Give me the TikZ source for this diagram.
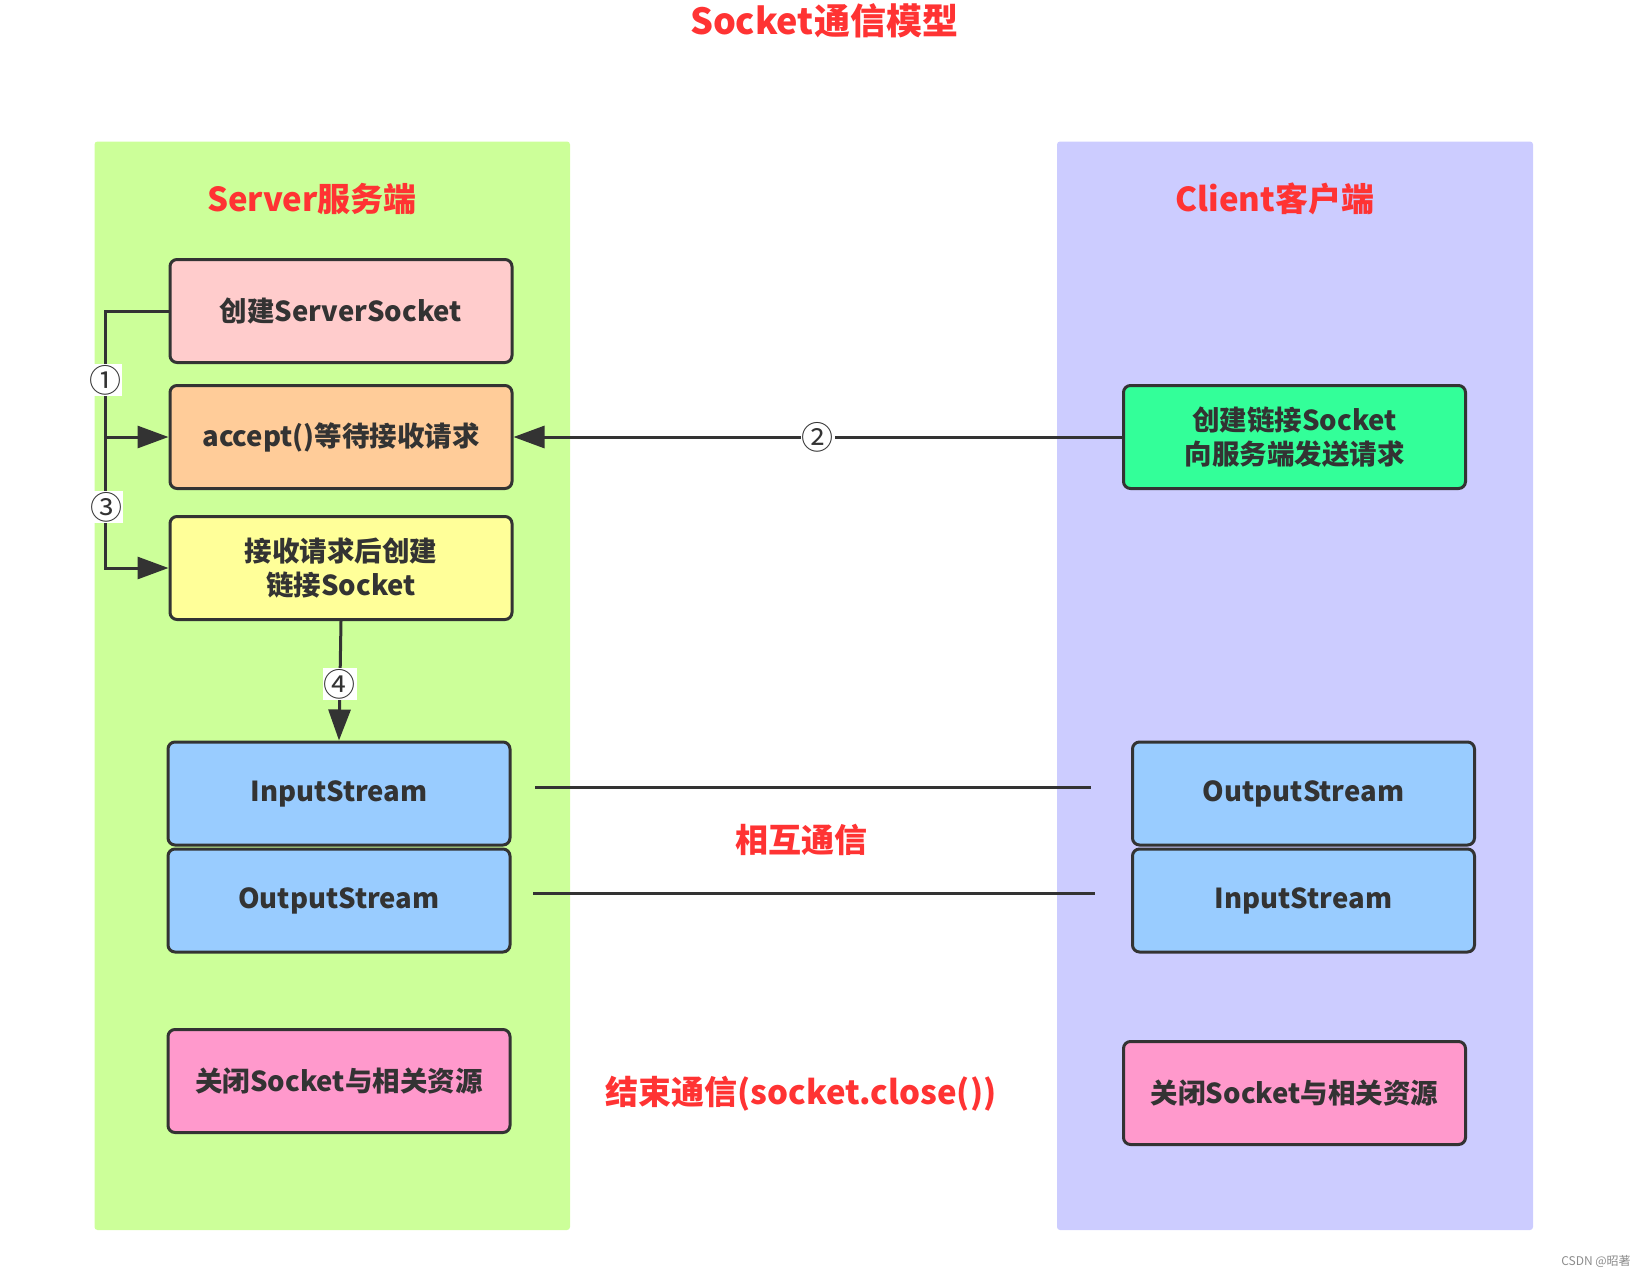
\documentclass[tikz,border=0pt]{standalone}
\usepackage{fontspec}
\setmainfont{Noto Sans CJK SC}
\usetikzlibrary{arrows.meta,calc}
\definecolor{panelgreen}{HTML}{CCFF99}
\definecolor{panelblue}{HTML}{CCCCFF}
\definecolor{boxpink}{HTML}{FFCCCC}
\definecolor{boxorange}{HTML}{FFCC99}
\definecolor{boxyellow}{HTML}{FFFF99}
\definecolor{boxmint}{HTML}{33FF99}
\definecolor{boxsky}{HTML}{99CCFF}
\definecolor{boxrose}{HTML}{FF99CC}
\definecolor{redtext}{HTML}{FF3333}
\definecolor{edge}{HTML}{333333}
\tikzset{
  box/.style={draw=edge, line width=3pt, rounded corners=7pt, minimum width=342pt, minimum height=103pt,
    text=edge, font=\fontsize{27.5}{34}\selectfont\bfseries, align=center, inner sep=0pt},
  heading/.style={text=redtext, font=\fontsize{33}{40}\selectfont\bfseries, inner sep=0pt},
  link/.style={draw=edge, line width=3pt},
  arrow/.style={link, -{Triangle[length=31pt,width=22pt]}},
  num/.style={fill=white, text=edge, font=\fontsize{32}{32}\selectfont, inner sep=1pt},
}
\begin{document}
\begin{tikzpicture}[x=1pt,y=-1pt]
\useasboundingbox (0,0) rectangle (1646,1277);
% panels
\fill[panelgreen, rounded corners=3pt] (94.5,141.5) rectangle (570,1230);
\fill[panelblue, rounded corners=3pt] (1057,141.5) rectangle (1533,1230);
% titles
\node[heading, font=\fontsize{36}{40}\selectfont\bfseries] (title) at (824,21) {Socket通信模型};
\node[heading] (srvtitle) at (312,199) {Server服务端};
\node[heading] (clititle) at (1275,199) {Client客户端};
% server boxes
\node[box, fill=boxpink] (ssock) at (341,311) {创建ServerSocket};
\node[box, fill=boxorange] (accept) at (341,437) {accept()等待接收请求};
\node[box, fill=boxyellow] (create) at (341,568) {接收请求后创建\\链接Socket};
\node[box, fill=boxsky] (in1) at (339,793.5) {InputStream};
\node[box, fill=boxsky] (out1) at (339,900.5) {OutputStream};
\node[box, fill=boxrose] (close1) at (339,1081) {关闭Socket与相关资源};
% client boxes
\node[box, fill=boxmint] (cconn) at (1294.5,437) {创建链接Socket\\向服务端发送请求};
\node[box, fill=boxsky] (cout) at (1303.5,793.5) {OutputStream};
\node[box, fill=boxsky] (cin) at (1303.5,900.5) {InputStream};
\node[box, fill=boxrose] (close2) at (1294.5,1093) {关闭Socket与相关资源};
% texts
\node[heading] (mutual) at (801,840) {相互通信};
\node[heading] (endcomm) at (801,1094) {结束通信(socket.close())};
\node[text=black!45, font=\fontsize{12}{12}\selectfont, inner sep=0pt] (mark) at (1596,1261) {CSDN @昭著};
% connectors
\coordinate (j1) at (105,311);
\coordinate (j2) at (105,437);
\draw[arrow] (ssock.west) -- (j1) -- (j2) -- (accept.west);
\node[num] (n1) at (105,380) {①};
\draw[arrow] (j2) |- (create.west);
\node[num] (n3) at (106,507) {③};
\draw[arrow] (cconn.west) -- (accept.east) node[num, midway] (n2) {②};
\draw[arrow] (create.south) -- (in1.north) node[num, pos=0.53] (n4) {④};
\coordinate (l1a) at (535,787);
\coordinate (l1b) at (1091,787);
\coordinate (l2a) at (533,893);
\coordinate (l2b) at (1095,893);
\draw[link] (l1a) -- (l1b);
\draw[link] (l2a) -- (l2b);
\end{tikzpicture}
\end{document}
